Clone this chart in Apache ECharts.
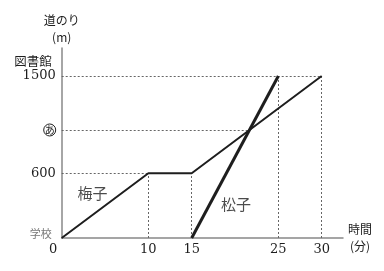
<!DOCTYPE html>
<html><head><meta charset="utf-8">
<script src="https://cdn.jsdelivr.net/npm/echarts@6/dist/echarts.min.js"></script>
<style>html,body{margin:0;padding:0;background:#fff}#c{width:384px;height:271px}</style>
</head><body><div id="c"></div>
<script>
// data
const umeko = [[0, 0], [10, 600], [15, 600], [30, 1500]];
const matsuko = [[15, 0], [25, 1500]];
const xTicks = [0, 10, 15, 25, 30];
const yTicks = [0, 600, 1000, 1500];
const crossY = 1000; // あ
const crossX = 15 + 600 / (150 - 60); // intersection time
const names = [['梅子', 3.55, 417], ['松子', 20.1, 315]];

const serif = 'DejaVu Serif';
const jp = 'Noto Sans CJK JP';
const ink = '#1e1e1e';
const dash = {color: '#666', width: 1, type: [2, 2]};

const guides = [
  [[0, 1500], [30, 1500]],
  [[25, 0], [25, 1500]],
  [[30, 0], [30, 1500]],
  [[0, 600], [10, 600]],
  [[10, 0], [10, 600]],
  [[15, 0], [15, 600]],
  [[0, crossY], [crossX, crossY]]
];

const chart = echarts.init(document.getElementById('c'), null, {renderer: 'canvas'});
chart.setOption({
  animation: false,
  grid: {left: 61.7, right: 41, top: 48, bottom: 33},
  xAxis: {
    type: 'value', min: 0, max: 32.46,
    splitLine: {show: false}, axisTick: {show: false},
    axisLine: {lineStyle: {color: '#888', width: 1.5}},
    axisLabel: {
      customValues: xTicks, margin: 5, color: ink, fontFamily: serif, fontSize: 13,
      formatter: v => v === 0 ? '{o|0}' : String(v),
      rich: {o: {fontFamily: serif, fontSize: 13, color: ink, padding: [0, 17, 0, 0]}}
    },
    name: '時間\n(分)', nameLocation: 'end', nameGap: 17,
    nameTextStyle: {fontFamily: jp, fontSize: 12, color: ink, lineHeight: 17, align: 'center', verticalAlign: 'middle'}
  },
  yAxis: {
    type: 'value', min: 0, max: 1759,
    splitLine: {show: false}, axisTick: {show: false},
    axisLine: {lineStyle: {color: '#888', width: 1.5}},
    axisLabel: {
      customValues: yTicks, margin: 6, color: ink, fontFamily: serif, fontSize: 13,
      formatter: v => {
        if (v === 0) return '{s|学校}';
        if (v === 1500) return '{t|図書館}\n{n|1500}\n{n| }';
        if (v === crossY) return '{c|あ}';
        return '{n|' + v + '}';
      },
      rich: {
        s: {fontFamily: jp, fontSize: 11, color: '#777', padding: [0, 4, 8, 0]},
        t: {fontFamily: jp, fontSize: 12.5, color: ink, lineHeight: 15, padding: [0, 4, 0, 0]},
        n: {fontFamily: serif, fontSize: 13, color: ink, lineHeight: 15},
        c: {fontFamily: jp, fontSize: 10, color: ink, width: 12, height: 12, lineHeight: 12, align: 'center',
            borderColor: ink, borderWidth: 1, borderRadius: 7, padding: [0, 0, 0, 0]}
      }
    },
    name: '道のり\n(m)', nameLocation: 'end', nameGap: 2,
    nameTextStyle: {fontFamily: jp, fontSize: 12, color: ink, lineHeight: 17, align: 'center', verticalAlign: 'bottom'}
  },
  series: [
    {
      type: 'line', data: [], silent: true,
      markLine: {symbol: 'none', silent: true, label: {show: false}, lineStyle: dash,
        data: guides.map(g => [{coord: g[0]}, {coord: g[1]}])}
    },
    {type: 'line', data: umeko, symbol: 'none', lineStyle: {color: ink, width: 2}, z: 5},
    {type: 'line', data: matsuko, symbol: 'none', lineStyle: {color: ink, width: 3}, z: 6},
    {
      type: 'scatter', symbolSize: 0, z: 7,
      data: names.map(n => ({value: [n[1], n[2]], label: {formatter: n[0]}})),
      label: {show: true, position: 'inside', fontFamily: jp, fontSize: 15, color: ink}
    }
  ]
});
</script></body></html>
